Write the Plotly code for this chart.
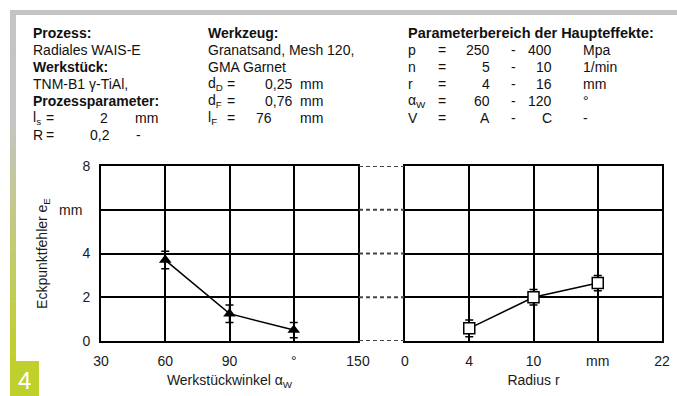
import plotly.graph_objects as go

# Eckpunktfehler über Werkstückwinkel (links) und Radius (rechts)
angle = [60, 90, 120]
angle_err = [3.7, 1.25, 0.5]
angle_err_pm = [0.4, 0.4, 0.35]

radius = [4, 10, 16]
radius_err = [0.58, 2.0, 2.65]
radius_err_pm = [0.38, 0.35, 0.35]

y_ticks = [0, 2, 4, 6, 8]
y_ticktext = ["0", "2", "4", "mm\u00a0\u00a0", "8"]
angle_ticks = [30, 60, 90, 120, 150]
angle_ticktext = ["30", "60", "90", "°", "150"]
radius_ticks = [-2, 4, 10, 16, 22]
radius_ticktext = ["0", "4", "10", "mm", "22"]

W, H = 677, 396
FONT = "Liberation Sans, Arial, sans-serif"

def px(x):
    return x / W

def py(y):
    return 1 - y / H

fig = go.Figure()

fig.add_trace(go.Scatter(
    x=angle, y=angle_err, mode="lines+markers",
    line=dict(color="black", width=1.5),
    marker=dict(symbol="triangle-up", size=11, color="black"),
    error_y=dict(type="data", array=angle_err_pm, color="black", thickness=1.5, width=4),
    xaxis="x", yaxis="y", showlegend=False, cliponaxis=False,
))
fig.add_trace(go.Scatter(
    x=radius, y=radius_err, mode="lines+markers",
    line=dict(color="black", width=1.5),
    marker=dict(symbol="square", size=11, color="white", line=dict(color="black", width=1.5)),
    error_y=dict(type="data", array=radius_err_pm, color="black", thickness=1.5, width=4),
    xaxis="x2", yaxis="y2", showlegend=False, cliponaxis=False,
))

ydom = [py(341), py(166)]
axis_common = dict(
    showline=True, linecolor="black", linewidth=2, mirror=True,
    showgrid=True, gridcolor="black", gridwidth=1.5,
    zeroline=False, ticks="", automargin=False, ticklabelstandoff=6,
    tickfont=dict(family=FONT, size=14, color="#1a1a1a"),
)
title_font = dict(family=FONT, size=14, color="#1a1a1a")

fig.update_layout(
    template="none",
    width=W, height=H,
    margin=dict(l=0, r=0, t=0, b=0),
    paper_bgcolor="white", plot_bgcolor="white",
    font=dict(family=FONT, color="#1a1a1a"),
    xaxis=dict(domain=[px(101), px(358)], range=[30, 150],
               tickvals=angle_ticks, ticktext=angle_ticktext, anchor="y",
               title=dict(text="Werkstückwinkel α<sub>W</sub>", font=title_font, standoff=7),
               **axis_common),
    yaxis=dict(domain=ydom, range=[0, 8], tickvals=y_ticks, ticktext=y_ticktext, anchor="x",
               title=dict(text="Eckpunktfehler e<sub>E</sub>", font=title_font, standoff=8),
               **axis_common),
    xaxis2=dict(domain=[px(405), px(662)], range=[-2, 22],
                tickvals=radius_ticks, ticktext=radius_ticktext, anchor="y2",
                title=dict(text="Radius r", font=title_font, standoff=7),
                **axis_common),
    yaxis2=dict(domain=ydom, range=[0, 8], tickvals=y_ticks, showticklabels=False, anchor="x2",
                **axis_common),
)

# dashed connectors between the two panels
for v in y_ticks:
    fig.add_shape(type="line", xref="paper", yref="y", x0=px(359), x1=px(404), y0=v, y1=v,
                  line=dict(color="#444", width=2, dash="4px,3px"))

# frame: top grey rule, left gradient bar, green number box
fig.add_shape(type="rect", xref="paper", yref="paper", x0=px(10), x1=px(677), y0=py(15), y1=py(10),
              line=dict(width=0), fillcolor="#c4c4c4")
top_c = (196, 196, 196)
bot_c = (192, 208, 40)
y_start, y_end = 15, 362
n = 40
for i in range(n):
    y0 = y_start + (y_end - y_start) * i / n
    y1 = y_start + (y_end - y_start) * (i + 1) / n
    t = max(0.0, (i / (n - 1) - 0.3) / 0.7)
    c = tuple(round(top_c[k] + (bot_c[k] - top_c[k]) * t) for k in range(3))
    fig.add_shape(type="rect", xref="paper", yref="paper", x0=px(10), x1=px(16),
                  y0=py(y1 + 0.5), y1=py(y0), line=dict(width=0),
                  fillcolor="rgb(%d,%d,%d)" % c)
fig.add_shape(type="rect", xref="paper", yref="paper", x0=px(10), x1=px(39), y0=0, y1=py(361),
              line=dict(width=0), fillcolor="#bfd02c")
fig.add_annotation(xref="paper", yref="paper", x=px(24.5), y=py(380), text="4", showarrow=False,
                   font=dict(family=FONT, size=24, color="white"), xanchor="center", yanchor="middle")

# header text block
def txt(x, y, s, bold=False, anchor="left", size=14):
    if bold:
        s = "<b>" + s + "</b>"
    fig.add_annotation(xref="paper", yref="paper", x=px(x), y=py(y), text=s, showarrow=False,
                       xanchor=anchor, yanchor="middle",
                       font=dict(family=FONT, size=size, color="#111"))

row = [32.5, 49.5, 66.5, 83.5, 100.5, 117.5, 134.5]

col1 = 31
txt(col1, row[0], "Prozess:", bold=True)
txt(col1, row[1], "Radiales WAIS-E")
txt(col1, row[2], "Werkstück:", bold=True)
txt(col1, row[3], "TNM-B1 γ-TiAl,")
txt(col1, row[4], "Prozessparameter:", bold=True)
txt(col1, row[5], "l<sub>s</sub>")
txt(44, row[5], "=")
txt(98, row[5], "2")
txt(133, row[5], "mm")
txt(col1, row[6], "R")
txt(44, row[6], "=")
txt(88, row[6], "0,2")
txt(134, row[6], "-")

col2 = 206
txt(col2, row[0], "Werkzeug:", bold=True)
txt(col2, row[1], "Granatsand, Mesh 120,")
txt(col2, row[2], "GMA Garnet")
txt(col2, row[3], "d<sub>D</sub>")
txt(col2, row[4], "d<sub>F</sub>")
txt(col2, row[5], "l<sub>F</sub>")
for r in (3, 4, 5):
    txt(225, row[r], "=")
txt(294, row[3], "0,25", anchor="right")
txt(294, row[4], "0,76", anchor="right")
txt(254, row[5], "76")
for r in (3, 4, 5):
    txt(298, row[r], "mm")

col3 = 406
txt(col3, row[0], "Parameterbereich der Haupteffekte:", bold=True, size=14.5)
params = ["p", "n", "r", "α<sub>W</sub>", "V"]
lows = ["250", "5", "4", "60", "A"]
highs = ["400", "10", "16", "120", "C"]
units = ["Mpa", "1/min", "mm", "°", "-"]
for i in range(5):
    y = row[i + 1]
    txt(col3, y, params[i])
    txt(436, y, "=")
    txt(492, y, lows[i], anchor="right")
    txt(509, y, "-")
    txt(554, y, highs[i], anchor="right")
    txt(581, y, units[i])

fig.write_html("out.html")
